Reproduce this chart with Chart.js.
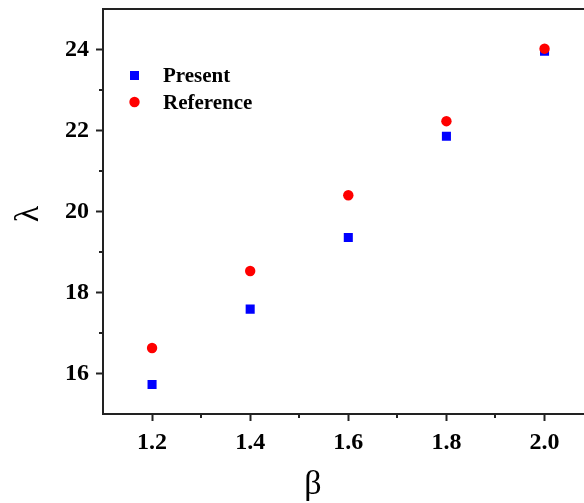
<!DOCTYPE html>
<html>
<head>
<meta charset="utf-8">
<script src="https://cdn.jsdelivr.net/npm/chart.js@4/dist/chart.umd.min.js"></script>
<style>
  html, body { margin: 0; padding: 0; background: #fff; overflow: hidden; }
  #wrap { width: 584px; height: 503px; overflow: hidden; }
</style>
</head>
<body>
<div id="wrap"><canvas id="c" width="600" height="503"></canvas></div>
<script>
const beta = [1.2, 1.4, 1.6, 1.8, 2.0];
const present = [15.73, 17.59, 19.36, 21.86, 23.96];
const reference = [16.63, 18.53, 20.40, 22.23, 24.02];
const seriesNames = ['Present', 'Reference'];

const axisColor = '#222';
const serif = '"Liberation Serif", "Times New Roman", serif';

const isMajorX = v => Math.round(v * 10) % 2 === 0;
const isMajorY = v => Math.round(v) % 2 === 0;

// legend, axis titles and minor ticks
const extras = {
    id: 'extras',
    afterDraw(chart) {
        const ctx = chart.ctx;
        const x = chart.scales.x;
        const y = chart.scales.y;
        ctx.save();

        ctx.strokeStyle = axisColor;
        ctx.lineWidth = 2;
        for (let v = 17; v < 25; v += 2) {
            const py = Math.round(y.getPixelForValue(v));
            ctx.beginPath();
            ctx.moveTo(y.right - 4, py);
            ctx.lineTo(y.right, py);
            ctx.stroke();
        }
        for (let i = 13; i <= 19; i += 2) {
            const px = Math.round(x.getPixelForValue(i / 10));
            ctx.beginPath();
            ctx.moveTo(px, x.top);
            ctx.lineTo(px, x.top + 4);
            ctx.stroke();
        }

        // legend
        ctx.fillStyle = '#0000ff';
        ctx.fillRect(130, 71, 9, 9);
        ctx.fillStyle = '#ff0000';
        ctx.beginPath();
        ctx.arc(134.5, 102, 5.2, 0, Math.PI * 2);
        ctx.fill();
        ctx.fillStyle = '#000';
        ctx.font = 'bold 21px ' + serif;
        ctx.textAlign = 'left';
        ctx.textBaseline = 'alphabetic';
        ctx.fillText(seriesNames[0], 163, 82);
        ctx.fillText(seriesNames[1], 163, 108.5);

        // axis titles
        ctx.font = '34px ' + serif;
        ctx.textAlign = 'center';
        ctx.textBaseline = 'middle';
        ctx.fillText('\u03b2', 313, 485);
        ctx.translate(29, 214);
        ctx.rotate(-Math.PI / 2);
        ctx.fillText('\u03bb', 0, 0);
        ctx.restore();
    }
};

new Chart(document.getElementById('c'), {
    type: 'scatter',
    data: {
        datasets: [{
            label: seriesNames[0],
            data: beta.map((b, i) => ({ x: b, y: present[i] })),
            pointStyle: 'rect',
            pointRadius: 6.4,
            backgroundColor: '#0000ff',
            borderWidth: 0,
            order: 1
        }, {
            label: seriesNames[1],
            data: beta.map((b, i) => ({ x: b, y: reference[i] })),
            pointStyle: 'circle',
            pointRadius: 5.2,
            backgroundColor: '#ff0000',
            borderWidth: 0,
            order: 0
        }]
    },
    options: {
        responsive: false,
        animation: false,
        layout: { padding: { top: 9, right: 5, left: 0, bottom: 0 } },
        plugins: {
            legend: { display: false },
            tooltip: { enabled: false }
        },
        scales: {
            x: {
                type: 'linear',
                position: 'bottom',
                min: 1.1,
                max: 2.1,
                afterFit: s => { s.height = 89; s.paddingLeft = 0; s.paddingRight = 0; },
                border: { display: true, color: axisColor, width: 2 },
                grid: {
                    drawOnChartArea: false,
                    tickLength: 7,
                    tickWidth: 2,
                    tickColor: c => isMajorX(c.tick.value) ? axisColor : 'rgba(0,0,0,0)'
                },
                ticks: {
                    stepSize: 0.1,
                    autoSkip: false,
                    maxRotation: 0,
                    padding: 7,
                    color: '#000',
                    font: { family: serif, size: 24, weight: 'bold' },
                    callback: v => isMajorX(v) ? v.toFixed(1) : ''
                }
            },
            x2: {
                type: 'linear',
                position: 'top',
                min: 1.1,
                max: 2.1,
                afterFit: s => { s.height = 0; s.paddingLeft = 0; s.paddingRight = 0; },
                border: { display: true, color: axisColor, width: 2 },
                grid: { display: false },
                ticks: { display: false }
            },
            y: {
                type: 'linear',
                min: 15,
                max: 25,
                afterFit: s => { s.width = 103; s.paddingTop = 0; s.paddingBottom = 0; },
                border: { display: true, color: axisColor, width: 2 },
                grid: {
                    drawOnChartArea: false,
                    tickLength: 7,
                    tickWidth: 2,
                    tickColor: c => isMajorY(c.tick.value) ? axisColor : 'rgba(0,0,0,0)'
                },
                ticks: {
                    stepSize: 1,
                    autoSkip: false,
                    padding: 7,
                    color: '#000',
                    font: { family: serif, size: 24, weight: 'bold' },
                    callback: v => isMajorY(v) ? String(v) : ''
                }
            }
        }
    },
    plugins: [extras]
});
</script>
</body>
</html>
